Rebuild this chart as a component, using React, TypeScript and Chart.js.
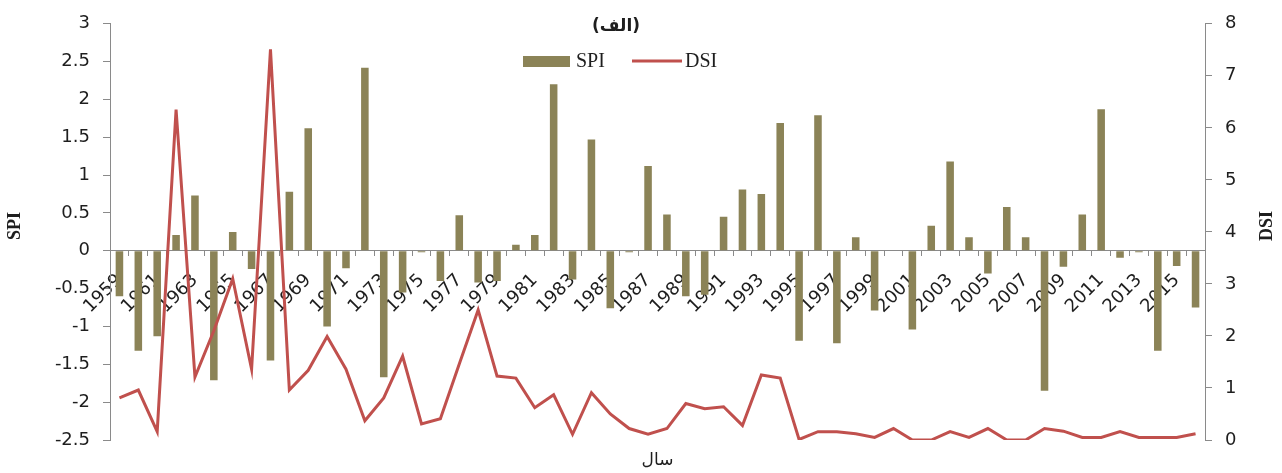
import React, { useEffect, useRef } from 'react';
import { Chart, registerables } from 'chart.js';

Chart.register(...registerables);

const years = [
  '1959', '1960', '1961', '1962', '1963', '1964', '1965', '1966', '1967', '1968',
  '1969', '1970', '1971', '1972', '1973', '1974', '1975', '1976', '1977', '1978',
  '1979', '1980', '1981', '1982', '1983', '1984', '1985', '1986', '1987', '1988',
  '1989', '1990', '1991', '1992', '1993', '1994', '1995', '1996', '1997', '1998',
  '1999', '2000', '2001', '2002', '2003', '2004', '2005', '2006', '2007', '2008',
  '2009', '2010', '2011', '2012', '2013', '2014', '2015', '2016',
];

const spiValues = [
  -0.6, -1.32, -1.13, 0.21, 0.73, -1.71, 0.25, -0.24, -1.45, 0.78,
  1.62, -1.0, -0.23, 2.42, -1.67, -0.55, -0.02, -0.4, 0.47, -0.42,
  -0.4, 0.08, 0.21, 2.2, -0.38, 1.47, -0.76, -0.02, 1.12, 0.48,
  -0.6, -0.58, 0.45, 0.81, 0.75, 1.69, -1.19, 1.79, -1.22, 0.18,
  -0.79, 0.0, -1.04, 0.33, 1.18, 0.18, -0.3, 0.58, 0.18, -1.85,
  -0.21, 0.48, 1.87, -0.09, -0.02, -1.32, -0.2, -0.75,
];

const dsiValues = [
  0.81, 0.96, 0.16, 6.35, 1.21, 2.1, 3.1, 1.36, 7.51, 0.96,
  1.34, 1.99, 1.36, 0.37, 0.81, 1.61, 0.31, 0.41, 1.46, 2.5,
  1.23, 1.19, 0.62, 0.87, 0.11, 0.91, 0.5, 0.22, 0.11, 0.22,
  0.7, 0.6, 0.64, 0.28, 1.25, 1.19, 0.01, 0.16, 0.16, 0.12,
  0.05, 0.22, 0.0, 0.0, 0.16, 0.05, 0.22, 0.0, 0.0, 0.22,
  0.17, 0.05, 0.05, 0.16, 0.05, 0.05, 0.05, 0.12,
];

const spiRange = [-2.5, 3];
const dsiRange = [0, 8];

const chartTitle = '(الف)';
const xTitle = 'سال';
const leftTitle = 'SPI';
const rightTitle = 'DSI';

const BAR_COLOR = '#8B8357';
const LINE_COLOR = '#C0504D';
const AXIS_COLOR = '#8A8A8A';
const TEXT_COLOR = '#1E1E1E';

const overlayPlugin = {
  id: 'overlayText',
  afterDraw(chart: any) {
    const { ctx, chartArea } = chart;
    ctx.save();
    ctx.fillStyle = TEXT_COLOR;

    // Chart title
    ctx.font = 'bold 17px "DejaVu Sans"';
    ctx.textAlign = 'center';
    ctx.textBaseline = 'middle';
    ctx.fillText(chartTitle, 616, 27);

    // Legend
    ctx.fillStyle = BAR_COLOR;
    ctx.fillRect(523, 56, 47, 11);
    ctx.fillStyle = TEXT_COLOR;
    ctx.font = '20px "Liberation Serif"';
    ctx.textAlign = 'left';
    ctx.fillText('SPI', 576, 62);
    ctx.strokeStyle = LINE_COLOR;
    ctx.lineWidth = 3;
    ctx.beginPath();
    ctx.moveTo(632, 61);
    ctx.lineTo(682, 61);
    ctx.stroke();
    ctx.fillText('DSI', 685, 62);

    // X title
    ctx.font = '17px "DejaVu Sans"';
    ctx.textAlign = 'center';
    ctx.fillText(xTitle, (chartArea.left + chartArea.right) / 2, 461);

    // Y titles
    const midY = (chartArea.top + chartArea.bottom) / 2 - 6;
    ctx.font = 'bold 18px "Liberation Serif"';
    ctx.save();
    ctx.translate(15, midY);
    ctx.rotate(-Math.PI / 2);
    ctx.fillText(leftTitle, 0, 0);
    ctx.restore();
    ctx.save();
    ctx.translate(1267, midY);
    ctx.rotate(-Math.PI / 2);
    ctx.fillText(rightTitle, 0, 0);
    ctx.restore();

    ctx.restore();
  },
};

export default function App() {
  const canvasRef = useRef<HTMLCanvasElement>(null);

  useEffect(() => {
    const canvas = canvasRef.current;
    if (!canvas) return;
    const chart = new Chart(canvas, {
      type: 'bar',
      data: {
        labels: years,
        datasets: [
          {
            type: 'bar',
            label: 'SPI',
            data: spiValues,
            backgroundColor: BAR_COLOR,
            yAxisID: 'y',
            order: 2,
            barPercentage: 0.4,
            categoryPercentage: 1,
          },
          {
            type: 'line',
            label: 'DSI',
            data: dsiValues,
            borderColor: LINE_COLOR,
            backgroundColor: LINE_COLOR,
            borderWidth: 3,
            pointRadius: 0,
            tension: 0,
            yAxisID: 'y1',
            order: 1,
          },
        ],
      } as any,
      options: {
        responsive: false,
        animation: false,
        layout: { padding: { top: 19, bottom: 33, left: 0, right: 0 } },
        plugins: {
          legend: { display: false },
          title: { display: false },
          tooltip: { enabled: false },
        },
        scales: {
          x: {
            position: { y: 0 } as any,
            grid: { offset: true, drawOnChartArea: false, tickLength: 5, color: AXIS_COLOR },
            border: { color: AXIS_COLOR },
            ticks: {
              autoSkip: false,
              maxRotation: 45,
              minRotation: 45,
              padding: 14,
              color: TEXT_COLOR,
              font: { family: '"DejaVu Sans"', size: 18 },
              callback: (_v: any, i: number) => (i % 2 === 0 ? years[i] : ''),
            },
          },
          y: {
            position: 'left',
            min: spiRange[0],
            max: spiRange[1],
            grid: { drawOnChartArea: false, tickLength: 7, color: AXIS_COLOR },
            border: { color: AXIS_COLOR },
            ticks: {
              stepSize: 0.5,
              padding: 13,
              color: TEXT_COLOR,
              font: { family: '"DejaVu Sans"', size: 18 },
              callback: (v: any) => String(Number(v)),
            },
            afterFit: (s: any) => {
              s.width = 110;
            },
          },
          y1: {
            position: 'right',
            min: dsiRange[0],
            max: dsiRange[1],
            grid: { drawOnChartArea: false, tickLength: 7, color: AXIS_COLOR },
            border: { color: AXIS_COLOR },
            ticks: {
              stepSize: 1,
              padding: 13,
              color: TEXT_COLOR,
              font: { family: '"DejaVu Sans"', size: 18 },
              callback: (v: any) => String(Number(v)),
            },
            afterFit: (s: any) => {
              s.width = 77;
            },
          },
        },
      } as any,
      plugins: [overlayPlugin],
    });
    return () => chart.destroy();
  }, []);

  return (
    <div style={{ position: 'fixed', left: 0, top: 0, width: 1282, height: 473, background: '#fff' }}>
      <canvas ref={canvasRef} width={1282} height={473} style={{ display: 'block' }} />
    </div>
  );
}
